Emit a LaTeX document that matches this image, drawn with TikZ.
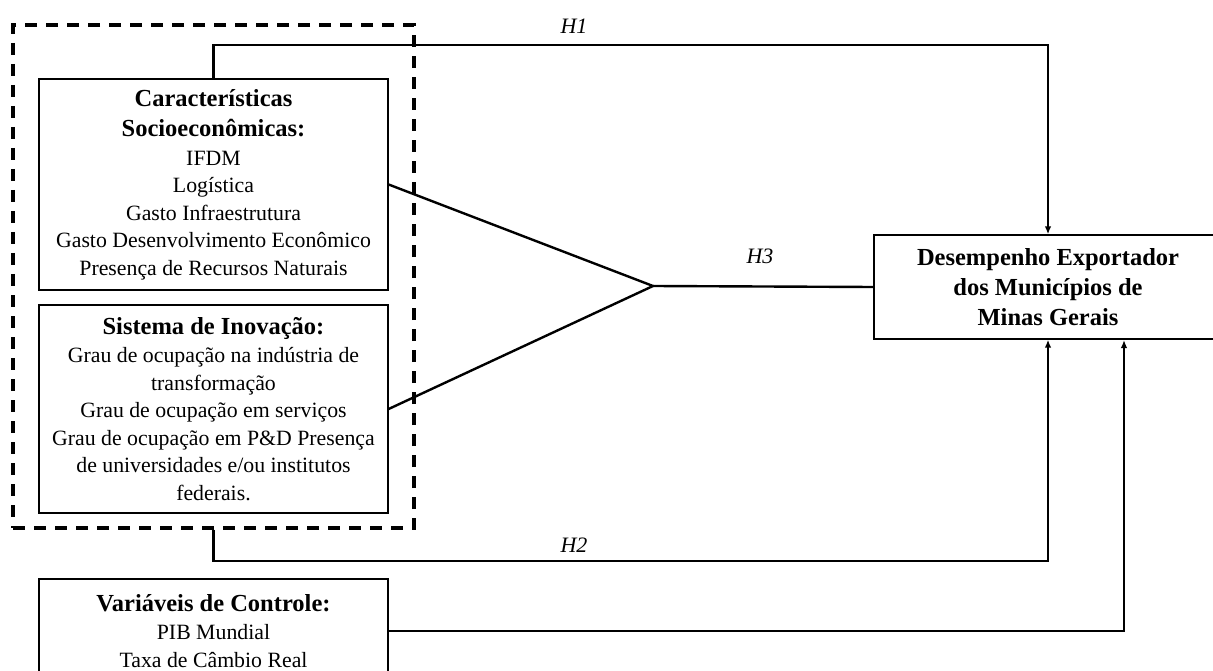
\documentclass[tikz,border=0pt]{standalone}
\usepackage{fontspec}
\setmainfont{Liberation Serif}
\usetikzlibrary{arrows.meta}
\newcommand{\hd}[1]{{\bfseries\fontsize{24.5}{30}\selectfont #1}}
\begin{document}
\begin{tikzpicture}[x=1pt,y=-1pt,
  box/.style={draw, line width=1.3pt, align=center, inner sep=0pt,
    font=\fontsize{21.8}{27.5}\selectfont},
  outbox/.style={draw, line width=1.3pt, align=center, inner sep=0pt,
    font=\bfseries\fontsize{24.5}{30}\selectfont},
  conn/.style={line width=2.4pt},
  arr/.style={conn, -{Latex[length=8pt,width=6.5pt]}},
  hyp/.style={font=\itshape\fontsize{22}{26}\selectfont},
  grpbox/.style={draw, line width=3.2pt, dash pattern=on 12pt off 9pt}]
\useasboundingbox (0,0) rectangle (1213,671);

\node[grpbox, minimum width=401pt, minimum height=503pt] (grp) at (213.5,276.5) {};

\node[box, minimum width=349pt, minimum height=211pt] (b1) at (213.5,184.5)
  {\hd{Características}\\[3pt]\hd{Socioeconômicas:}\\[1pt]IFDM\\Logística\\Gasto Infraestrutura\\Gasto Desenvolvimento Econômico\\Presença de Recursos Naturais};

\node[box, minimum width=349pt, minimum height=208pt] (b2) at (213.5,409)
  {\hd{Sistema de Inovação:}\\[1pt]Grau de ocupação na indústria de\\transformação\\Grau de ocupação em serviços\\Grau de ocupação em P\&D Presença\\de universidades e/ou institutos\\federais.};

\node[box, minimum width=349pt, minimum height=104pt] (b3) at (213.5,631)
  {\hd{Variáveis de Controle:}\\[1pt]PIB Mundial\\Taxa de Câmbio Real};

\node[outbox, minimum width=348pt, minimum height=104pt] (out) at (1048,287)
  {Desempenho Exportador\\dos Municípios de\\Minas Gerais};

\coordinate (h1a) at (213.5,45);
\coordinate (h1b) at (1048,45);
\coordinate (apex) at (653,286);
\coordinate (h2a) at (213.5,561);
\coordinate (h2b) at (1048,561);
\coordinate (c2) at (1124,340);

\draw[arr] (b1.north) -- (h1a) -- (h1b) -- (out.north);
\draw[conn] (b1.east) -- (apex) -- (b2.east);
\draw[conn] (apex) -- (out.west);
\draw[arr] (grp.south) -- (h2a) -- (h2b) -- (out.south);
\draw[arr] (b3.east) -| (c2);

\node[hyp] (lh1) at (574,26) {H1};
\node[hyp] (lh3) at (760,256) {H3};
\node[hyp] (lh2) at (574,545) {H2};
\end{tikzpicture}
\end{document}
